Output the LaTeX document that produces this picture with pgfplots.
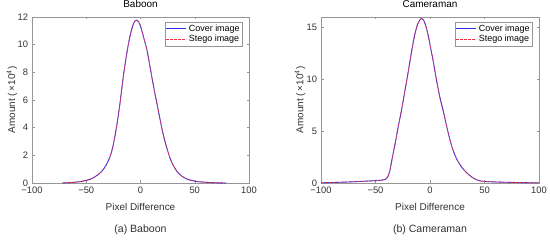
\documentclass[border=0pt]{standalone}
\usepackage{pgfplots}
\usepackage{pgfplotstable}
\pgfplotsset{compat=1.18}
\usepackage{fontspec}
\setmainfont{Liberation Sans}
\definecolor{axgray}{RGB}{150,150,150}
\definecolor{txtgray}{RGB}{50,50,50}
\definecolor{coverblue}{RGB}{50,50,235}
\definecolor{stegored}{RGB}{240,50,70}

\pgfplotstableread{
x y
-72 0.0
-65 0.03
-60 0.06
-55 0.11
-50 0.19
-45 0.32
-40 0.55
-36 0.82
-32 1.25
-28 1.92
-25 2.8
-22 4.1
-19 5.7
-16 7.6
-13 9.2
-11 10.1
-9 10.85
-7 11.4
-5 11.72
-3.5 11.78
-2 11.68
0 11.35
2 10.8
4 10.2
6 9.6
9 8.3
12 7.0
15 5.8
18 4.6
21 3.5
24 2.6
27 1.85
30 1.3
34 0.8
38 0.5
43 0.28
50 0.13
57 0.07
65 0.03
72 0.01
79 0.0
}\baboon

\pgfplotstableread{
x y
-100 0.02
-90 0.05
-80 0.08
-70 0.12
-60 0.17
-50 0.23
-44 0.28
-41 0.35
-39 0.55
-37 1.1
-35 2.2
-32 3.8
-29 5.5
-26 7.1
-23 8.9
-20 10.7
-17 12.6
-14 14.3
-11 15.4
-8 15.85
-6 15.7
-4 15.2
-2 14.4
1 12.8
3 11.7
6 9.9
9 8.3
12 7.0
15 5.6
18 4.3
21 3.2
25 2.2
30 1.4
34 0.95
38 0.6
42 0.35
46 0.2
50 0.15
60 0.1
70 0.07
80 0.05
90 0.03
100 0.02
}\cameraman

\pgfplotsset{
  mystyle/.style={
    scale only axis,
    width=217bp, height=166bp,
    anchor=south west,
    xmin=-100, xmax=100,
    ymin=0,
    xtick={-100,-50,0,50,100},
    xticklabels={−100,−50,0,50,100},
    axis line style={axgray, line width=0.5pt},
    tick style={axgray, line width=0.5pt},
    tick align=inside,
    major tick length=2.5bp,
    ticklabel style={font=\fontsize{9.4}{11}\selectfont, text=txtgray},
    yticklabel style={xshift=-0.5bp},
    /pgf/number format/assume math mode=true,
    xlabel={Pixel Difference},
    ylabel={Amount (\,×10\textsuperscript{4})},
    label style={font=\fontsize{10}{12}\selectfont, text=txtgray},
    title style={font=\fontsize{10}{12}\selectfont, text=black,
      at={(axis description cs:0.5,1.042)}, anchor=center},
    xlabel style={at={(axis description cs:0.5,-0.145)}, anchor=center},
    legend cell align=left,
    legend image code/.code={\draw[##1] (0bp,0bp) -- (20bp,0bp);},
    every axis plot/.append style={smooth, tension=0.5},
  }
}

\begin{document}
\begin{tikzpicture}
\path[use as bounding box] (0bp,0bp) rectangle (550bp,241bp);
\begin{axis}[mystyle, at={(32bp,58bp)}, ymax=12, ytick={0,2,4,6,8,10,12}, title={Baboon},
    ylabel style={at={(axis description cs:-0.092,0.5)}, anchor=center},
    legend style={at={(0.972,0.972)}, anchor=north east, draw=axgray,
      font=\fontsize{9}{10}\selectfont,
      inner sep=1pt, row sep=-1.5pt, line width=0.5pt}]
\addplot[draw=coverblue, line width=0.9pt] table[x=x,y=y] {\baboon};
\addlegendentry{Cover image}
\addplot[draw=stegored, line width=0.75pt, dash pattern=on 2.4bp off 1.6bp] table[x=x,y=y] {\baboon};
\addlegendentry{Stego image}
\end{axis}
\node[font=\fontsize{10.6}{12}\selectfont, text=txtgray] at (140.5bp,11bp) {(a) Baboon};

\begin{axis}[mystyle, at={(321bp,58bp)}, width=218bp, ymax=16, ytick={0,5,10,15}, title={Cameraman},
    ylabel style={at={(axis description cs:-0.096,0.5)}, anchor=center},
    legend style={at={(0.972,0.972)}, anchor=north east, draw=axgray,
      font=\fontsize{9}{10}\selectfont,
      inner sep=1pt, row sep=-1.5pt, line width=0.5pt}]
\addplot[draw=coverblue, line width=0.9pt] table[x=x,y=y] {\cameraman};
\addlegendentry{Cover image}
\addplot[draw=stegored, line width=0.75pt, dash pattern=on 2.4bp off 1.6bp] table[x=x,y=y] {\cameraman};
\addlegendentry{Stego image}
\end{axis}
\node[font=\fontsize{10.6}{12}\selectfont, text=txtgray] at (430bp,11bp) {(b) Cameraman};
\end{tikzpicture}
\end{document}
